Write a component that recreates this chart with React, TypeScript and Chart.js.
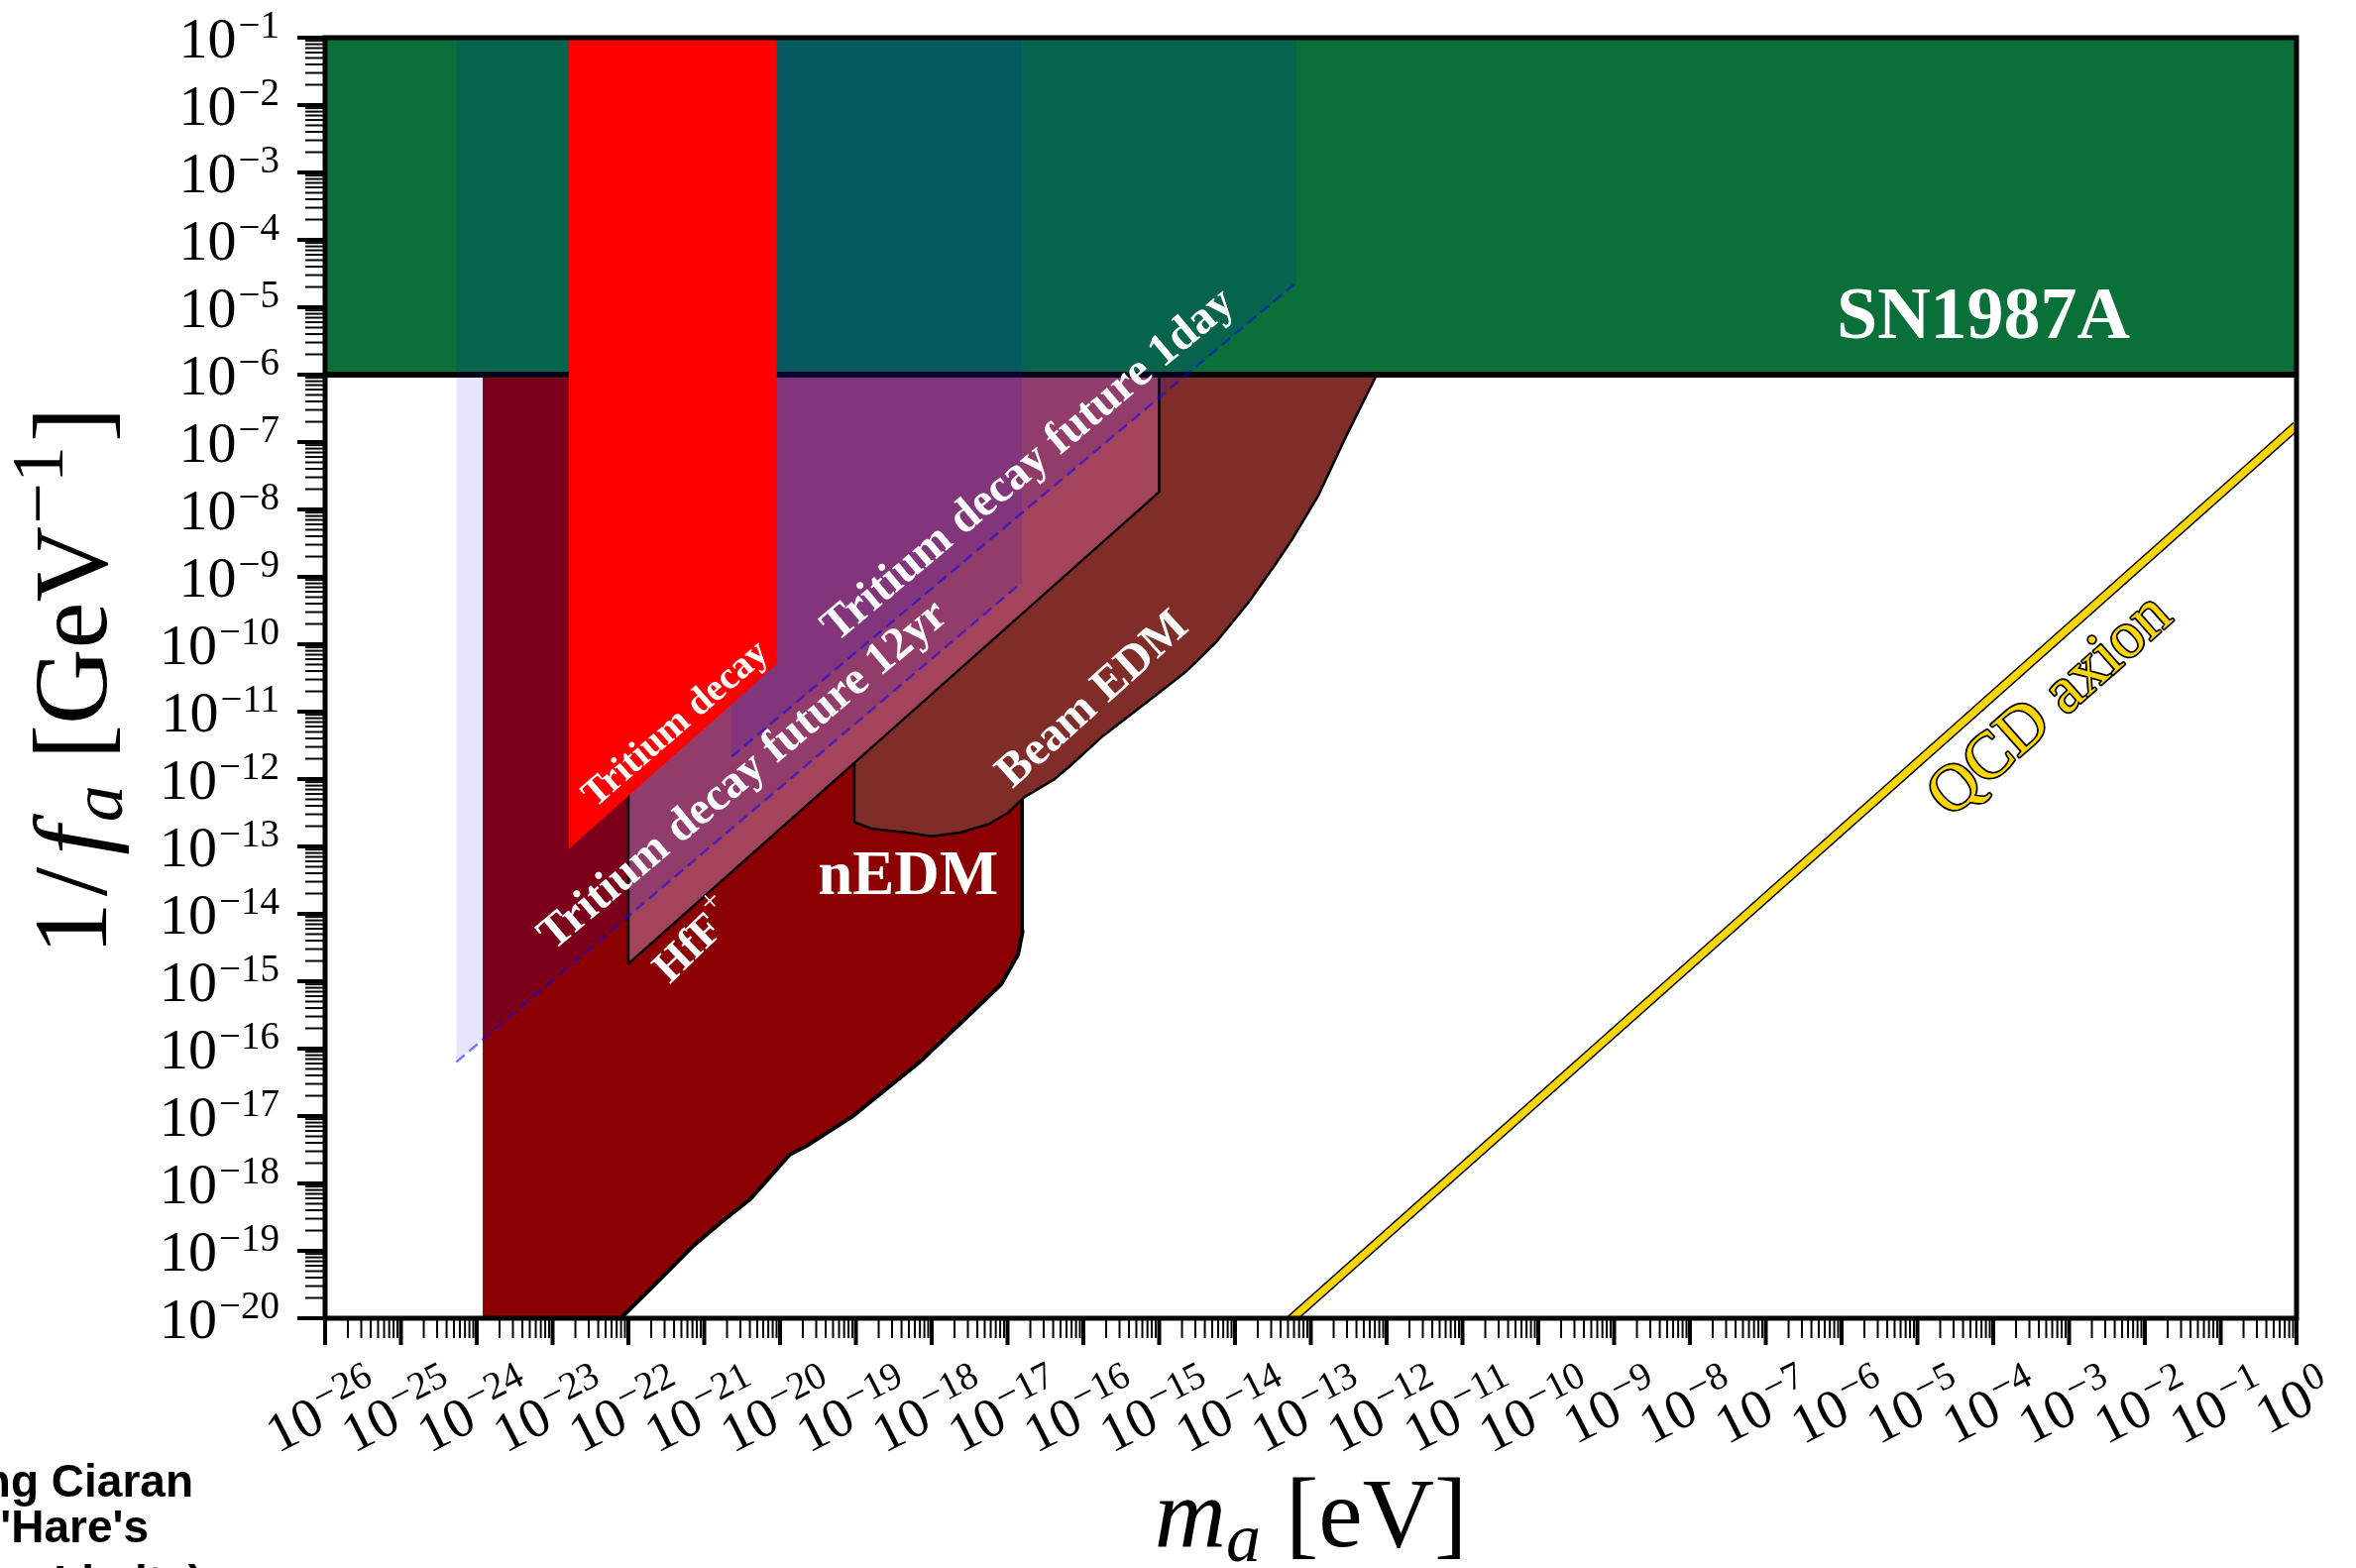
import React, { useEffect, useRef } from "react";
import { Chart, registerables } from "chart.js";

Chart.register(...registerables);

const CANVAS_W = 2377;
const CANVAS_H = 1582;
const SERIF = "'Liberation Serif', 'Times New Roman', serif";
const SANS = "'Liberation Sans', Arial, sans-serif";

// ---- axis ranges and ticks ----
const massRange = [1e-26, 1];
const couplingRange = [1e-20, 1e-1];
const massTickExponents = [-26, -25, -24, -23, -22, -21, -20, -19, -18, -17, -16, -15, -14, -13, -12, -11, -10, -9, -8, -7, -6, -5, -4, -3, -2, -1, 0];
const couplingTickExponents = [-20, -19, -18, -17, -16, -15, -14, -13, -12, -11, -10, -9, -8, -7, -6, -5, -4, -3, -2, -1];
const minorMultipliers = [2, 3, 4, 5, 6, 7, 8, 9];

// ---- regions: mass m_a [eV], coupling 1/f_a [GeV^-1] ----
const nedmMass = [1.2e-24, 7.9e-23, 2.19e-22, 7.24e-22, 1.78e-21, 4.07e-21, 1.35e-20, 2.19e-20, 8.9e-20, 6.76e-19, 3.63e-18, 8.3e-18, 1.38e-17, 1.58e-17, 1.55e-17, 1.55e-17];
const nedmCoupling = [1e-20, 1e-20, 3.09e-20, 1.2e-19, 2.82e-19, 5.89e-19, 2.69e-18, 3.55e-18, 9.8e-18, 6.17e-17, 3.72e-16, 9.1e-16, 2.51e-15, 5.5e-15, 5.0e-13, 1e-6];

const beamEdmMass = [9.55e-20, 9.55e-20, 1.66e-19, 4.47e-19, 1.0e-18, 2.45e-18, 5.62e-18, 1.02e-17, 1.66e-17, 4.07e-17, 6.76e-17, 1.82e-16, 7.08e-16, 2.29e-15, 5.62e-15, 1.51e-14, 3.47e-14, 5.62e-14, 1.26e-13, 2.82e-13, 7.41e-13];
const beamEdmCoupling = [1e-6, 2.29e-13, 1.82e-13, 1.62e-13, 1.41e-13, 1.62e-13, 2.14e-13, 3.16e-13, 5.37e-13, 9.77e-13, 1.58e-12, 4.37e-12, 1.41e-11, 3.98e-11, 1.07e-10, 4.17e-10, 1.58e-9, 3.55e-9, 1.62e-8, 1.12e-7, 1e-6];

const hffMass = [1e-22, 1e-22, 1e-15, 1e-15];
const hffCoupling = [1e-6, 1.82e-15, 1.82e-8, 1e-6];

const sn1987aMass = [1e-26, 1];
const sn1987aCoupling = [1e-6, 1e-6];

const tritiumMass = [1.62e-23, 9.1e-21];
const tritiumCoupling = [9.1e-14, 5.1e-11];

const tritium12yrMass = [5.37e-25, 1.55e-17];
const tritium12yrCoupling = [6.3e-17, 8.3e-10];

const tritium1dayMass = [2.29e-21, 6.46e-14];
const tritium1dayCoupling = [2.14e-12, 2.34e-5];

const qcdMass = [1e-14, 1];
const qcdCoupling = [1.75e-21, 1.75e-7];

// ---- text annotations (anchors in data coordinates) ----
const annotations = [
  { text: "Tritium decay", m: 4.27e-22, g: 6.46e-12, angle: -41, font: `bold 39px ${SERIF}` },
  { text: "Tritium decay future 12yr", m: 3.31e-21, g: 1.12e-12, angle: -40, font: `bold 47px ${SERIF}` },
  { text: "Tritium decay future 1day", m: 1.91e-17, g: 4.47e-8, angle: -40, font: `bold 47px ${SERIF}` },
  { text: "Beam EDM", m: 1.35e-16, g: 1.48e-11, angle: -42, font: `bold 48px ${SERIF}` },
];

function pts(xs: number[], ys: number[]) {
  return xs.map((x, i) => ({ x, y: ys[i] }));
}

function seg(ctx: CanvasRenderingContext2D, x1: number, y1: number, x2: number, y2: number, lw: number) {
  ctx.lineWidth = lw;
  ctx.beginPath();
  ctx.moveTo(x1, y1);
  ctx.lineTo(x2, y2);
  ctx.stroke();
}

function expText(e: number) {
  return e < 0 ? "\u2212" + Math.abs(e) : String(e);
}

const axesPlugin = {
  id: "customAxes",
  afterDraw(chart: any) {
    const ctx: CanvasRenderingContext2D = chart.ctx;
    const a = chart.chartArea;
    const xs = chart.scales.x;
    const ys = chart.scales.y;
    const X = (v: number) => xs.getPixelForValue(v);
    const Y = (v: number) => ys.getPixelForValue(v);
    ctx.save();
    ctx.strokeStyle = "#000";
    ctx.fillStyle = "#000";
    ctx.lineCap = "butt";

    // ---- region labels ----
    ctx.fillStyle = "#fff";
    ctx.textAlign = "center";
    ctx.textBaseline = "middle";
    annotations.forEach((t) => {
      ctx.save();
      ctx.translate(X(t.m), Y(t.g));
      ctx.rotate((t.angle * Math.PI) / 180);
      ctx.font = t.font;
      ctx.fillText(t.text, 0, 0);
      ctx.restore();
    });
    // HfF+
    ctx.save();
    ctx.translate(X(7.24e-22), Y(3.98e-15));
    ctx.rotate((-44 * Math.PI) / 180);
    ctx.font = `bold 45px ${SERIF}`;
    const wH = ctx.measureText("HfF").width;
    ctx.font = `32px ${SERIF}`;
    const wP = ctx.measureText("+").width;
    ctx.textAlign = "left";
    ctx.textBaseline = "alphabetic";
    ctx.font = `bold 45px ${SERIF}`;
    ctx.fillText("HfF", -(wH + wP) / 2, 15);
    ctx.font = `32px ${SERIF}`;
    ctx.fillText("+", -(wH + wP) / 2 + wH + 1, -7);
    ctx.restore();
    // nEDM
    ctx.textAlign = "center";
    ctx.textBaseline = "alphabetic";
    ctx.font = `bold 63px ${SERIF}`;
    ctx.fillText("nEDM", X(4.9e-19), Y(2.0e-14));
    // SN1987A
    ctx.font = `bold 74px ${SERIF}`;
    ctx.fillText("SN1987A", X(7.4e-5), Y(3.55e-6));
    // QCD axion
    ctx.save();
    ctx.translate(X(5.75e-4), Y(1.2e-11));
    ctx.rotate((-41.6 * Math.PI) / 180);
    ctx.font = `66px ${SERIF}`;
    ctx.textBaseline = "middle";
    ctx.lineJoin = "round";
    ctx.lineWidth = 3.5;
    ctx.strokeStyle = "#000";
    ctx.strokeText("QCD axion", 0, 0);
    ctx.fillStyle = "#ffd700";
    ctx.fillText("QCD axion", 0, 0);
    ctx.restore();

    ctx.fillStyle = "#000";
    ctx.strokeStyle = "#000";

    // ---- y ticks ----
    couplingTickExponents.forEach((e, i) => {
      const base = Math.pow(10, e);
      const py = Y(base);
      seg(ctx, a.left - 28, py, a.left, py, 4);
      if (i < couplingTickExponents.length - 1) {
        minorMultipliers.forEach((k) => {
          const p = Y(k * base);
          seg(ctx, a.left - 20, p, a.left, p, 2);
        });
      }
    });
    // ---- x ticks ----
    massTickExponents.forEach((e, i) => {
      const base = Math.pow(10, e);
      const px = X(base);
      seg(ctx, px, a.bottom, px, a.bottom + 27, 4);
      if (i < massTickExponents.length - 1) {
        minorMultipliers.forEach((k) => {
          const p = X(k * base);
          seg(ctx, p, a.bottom, p, a.bottom + 20, 2);
        });
      }
    });

    // ---- frame ----
    ctx.lineWidth = 5;
    ctx.strokeRect(a.left, a.top, a.right - a.left, a.bottom - a.top);

    // ---- y tick labels ----
    ctx.textAlign = "left";
    ctx.textBaseline = "alphabetic";
    couplingTickExponents.forEach((e) => {
      const py = Y(Math.pow(10, e));
      ctx.font = `58px ${SERIF}`;
      const w10 = ctx.measureText("10").width;
      const sup = expText(e);
      ctx.font = `39px ${SERIF}`;
      const ws = ctx.measureText(sup).width;
      const xEnd = a.left - 46;
      const x0 = xEnd - ws - w10 - 2;
      ctx.font = `58px ${SERIF}`;
      ctx.fillText("10", x0, py + 20);
      ctx.font = `39px ${SERIF}`;
      ctx.fillText(sup, x0 + w10 + 2, py);
    });

    // ---- x tick labels (rotated) ----
    const ang = (-27 * Math.PI) / 180;
    const c = Math.cos(ang);
    const s = Math.sin(ang);
    const bSize = 56;
    const sSize = 39;
    massTickExponents.forEach((e) => {
      const px = X(Math.pow(10, e));
      ctx.font = `${bSize}px ${SERIF}`;
      const w10 = ctx.measureText("10").width;
      const sup = expText(e);
      ctx.font = `${sSize}px ${SERIF}`;
      const ws = ctx.measureText(sup).width;
      const Wt = w10 + 2 + ws;
      const raise = 19;
      const topL = -Math.max(0.68 * bSize, raise + 0.68 * sSize);
      const corners = [
        [0, topL],
        [Wt, topL],
        [0, 0],
        [Wt, 0],
      ].map(([x, y]) => [x * c - y * s, x * s + y * c]);
      const minX = Math.min(...corners.map((p) => p[0]));
      const maxX = Math.max(...corners.map((p) => p[0]));
      const minY = Math.min(...corners.map((p) => p[1]));
      const ox = px - 5 - (minX + maxX) / 2;
      const oy = a.bottom + 42 - minY;
      ctx.save();
      ctx.translate(ox, oy);
      ctx.rotate(ang);
      ctx.font = `${bSize}px ${SERIF}`;
      ctx.fillText("10", 0, 0);
      ctx.font = `${sSize}px ${SERIF}`;
      ctx.fillText(sup, w10 + 2, -raise);
      ctx.restore();
    });

    // ---- x axis title ----
    {
      const parts: [string, string, number][] = [
        ["m", `italic 100px ${SERIF}`, 0],
        ["a", `italic 70px ${SERIF}`, 15],
        [" [eV]", `100px ${SERIF}`, 0],
      ];
      let total = 0;
      parts.forEach(([t, f]) => {
        ctx.font = f;
        total += ctx.measureText(t).width;
      });
      let cx = (a.left + a.right) / 2 - total / 2;
      const by = a.bottom + 230;
      parts.forEach(([t, f, dy]) => {
        ctx.font = f;
        ctx.fillText(t, cx, by + dy);
        cx += ctx.measureText(t).width;
      });
    }

    // ---- y axis title (rotated) ----
    {
      const parts: [string, string, number, number][] = [
        ["1", `106px ${SERIF}`, 0, 6],
        ["/", `106px ${SERIF}`, 0, 12],
        ["f", `italic 106px ${SERIF}`, 0, 4],
        ["a", `italic 74px ${SERIF}`, 16, 26],
        ["[GeV", `106px ${SERIF}`, 0, 2],
        ["\u22121", `74px ${SERIF}`, -44, 4],
        ["]", `106px ${SERIF}`, 0, 0],
      ];
      let total = 0;
      parts.forEach(([t, f, , g]) => {
        ctx.font = f;
        total += ctx.measureText(t).width + g;
      });
      ctx.save();
      const midY = (a.top + a.bottom) / 2 + 3;
      ctx.translate(a.left - 221, midY + total / 2);
      ctx.rotate(-Math.PI / 2);
      let cx = 0;
      parts.forEach(([t, f, dy, g]) => {
        ctx.font = f;
        ctx.fillText(t, cx, dy);
        cx += ctx.measureText(t).width + g;
      });
      ctx.restore();
    }

    // ---- cropped credit text at bottom-left ----
    ctx.font = `bold 46px ${SANS}`;
    ctx.textAlign = "right";
    ctx.fillText("(Plot made using Ciaran", 195, 1510);
    ctx.fillText("O'Hare's", 150, 1556);
    ctx.fillText("AxionLimits)", 205, 1612);

    ctx.restore();
  },
};

export default function App() {
  const ref = useRef<HTMLCanvasElement | null>(null);

  useEffect(() => {
    if (!ref.current) return;
    const common = { pointRadius: 0, tension: 0, borderJoinStyle: "round" as const };
    const chart = new Chart(ref.current, {
      type: "line",
      data: {
        datasets: [
          { ...common, label: "QCD axion", data: pts(qcdMass, qcdCoupling), borderColor: "#ffd700", borderWidth: 7, fill: false, order: 0 },
          { ...common, label: "QCD axion edge", data: pts(qcdMass, qcdCoupling), borderColor: "#000", borderWidth: 10, fill: false, order: 1 },
          { ...common, label: "Tritium decay", data: pts(tritiumMass, tritiumCoupling), borderWidth: 0, borderColor: "rgba(0,0,0,0)", backgroundColor: "#ff0000", fill: "end", order: 2 },
          { ...common, label: "Tritium decay future 1day", data: pts(tritium1dayMass, tritium1dayCoupling), borderColor: "rgba(0,0,255,0.5)", borderWidth: 2.5, borderDash: [11, 6], backgroundColor: "rgba(0,0,255,0.1)", fill: "end", order: 3 },
          { ...common, label: "Tritium decay future 12yr", data: pts(tritium12yrMass, tritium12yrCoupling), borderColor: "rgba(0,0,255,0.5)", borderWidth: 2.5, borderDash: [11, 6], backgroundColor: "rgba(0,0,255,0.1)", fill: "end", order: 4 },
          { ...common, label: "SN1987A", data: pts(sn1987aMass, sn1987aCoupling), borderColor: "#000", borderWidth: 6, backgroundColor: "rgb(8,112,56)", fill: "end", order: 5 },
          { ...common, label: "HfF+", data: pts(hffMass, hffCoupling), borderColor: "#000", borderWidth: 2.5, backgroundColor: "rgb(163,67,92)", fill: "end", order: 6 },
          { ...common, label: "Beam EDM", data: pts(beamEdmMass, beamEdmCoupling), borderColor: "#000", borderWidth: 2.5, backgroundColor: "rgb(128,45,42)", fill: "end", order: 7 },
          { ...common, label: "nEDM", data: pts(nedmMass, nedmCoupling), borderColor: "#000", borderWidth: 4, backgroundColor: "rgb(139,0,0)", fill: "end", order: 8 },
        ] as any,
      },
      options: {
        responsive: false,
        animation: false,
        devicePixelRatio: 1,
        events: [],
        layout: { padding: { left: 328, top: 38, right: 60, bottom: 252 } },
        scales: {
          x: { type: "logarithmic", min: massRange[0], max: massRange[1], display: false, bounds: "data" } as any,
          y: { type: "logarithmic", min: couplingRange[0], max: couplingRange[1], display: false, bounds: "data" } as any,
        },
        plugins: { legend: { display: false }, tooltip: { enabled: false } },
      },
      plugins: [axesPlugin],
    });
    return () => chart.destroy();
  }, []);

  return (
    <div style={{ position: "fixed", left: 0, top: 0, width: CANVAS_W, height: CANVAS_H, background: "#fff" }}>
      <canvas ref={ref} width={CANVAS_W} height={CANVAS_H} style={{ display: "block", width: CANVAS_W, height: CANVAS_H }} />
    </div>
  );
}
